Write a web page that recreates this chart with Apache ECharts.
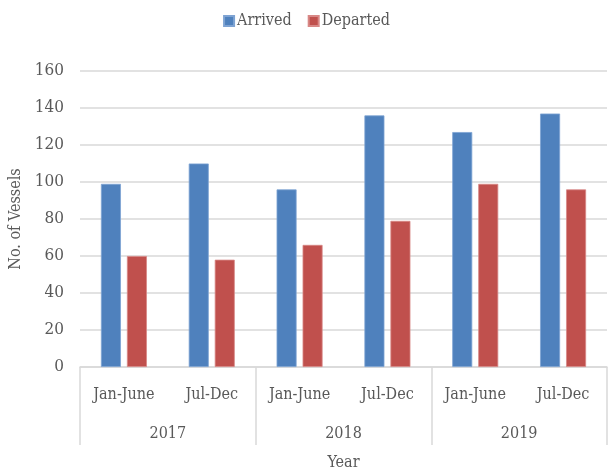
<!DOCTYPE html>
<html><head><meta charset="utf-8">
<script src="https://cdn.jsdelivr.net/npm/echarts@6/dist/echarts.min.js"></script>
<style>html,body{margin:0;padding:0;background:#fff}#c{width:613px;height:470px}</style>
</head><body><div id="c"></div>
<script>
const periods = ['Jan-June','Jul-Dec','Jan-June','Jul-Dec','Jan-June','Jul-Dec'];
const years = ['2017','2018','2019'];
const arrived = [99, 110, 96, 136, 127, 137];
const departed = [60, 58, 66, 79, 99, 96];
const yTicks = {min: 0, max: 160, interval: 20};

const FONT = '"DejaVu Serif Condensed", "DejaVu Serif", serif';
const TXT = '#595959';
const chart = echarts.init(document.getElementById('c'), null, {renderer:'canvas'});
chart.setOption({
  animation: false,
  textStyle: {fontFamily: FONT, color: TXT},
  legend: {
    top: 8, left: 'center', itemWidth: 10, itemHeight: 10, itemGap: 16,
    icon: 'rect',
    textStyle: {fontFamily: FONT, fontSize: 16, color: TXT, padding: [0,0,0,-2]},
    data: ['Arrived','Departed']
  },
  grid: {left: 80, right: 6, top: 71, bottom: 103, outerBoundsMode: 'none', containLabel: false},
  xAxis: [
    {type: 'category', data: periods, position: 'bottom',
     axisLine: {lineStyle: {color: '#d9d9d9', width: 1.5}},
     axisTick: {show: false},
     axisLabel: {fontFamily: FONT, fontSize: 16, color: TXT, margin: 20}},
    {type: 'category', data: years, position: 'bottom',
     axisLine: {show: false},
     axisTick: {show: true, length: 78, lineStyle: {color: '#d9d9d9', width: 1.5}},
     axisLabel: {fontFamily: FONT, fontSize: 16, color: TXT, margin: 59},
     name: 'Year', nameLocation: 'middle', nameGap: 88,
     nameTextStyle: {fontFamily: FONT, fontSize: 16, color: TXT}}
  ],
  yAxis: {
    type: 'value', min: yTicks.min, max: yTicks.max, interval: yTicks.interval,
    axisLine: {show: false}, axisTick: {show: false},
    axisLabel: {fontFamily: FONT, fontSize: 17, color: TXT, margin: 16},
    splitLine: {lineStyle: {color: '#d9d9d9', width: 1.5}},
    name: 'No. of Vessels', nameLocation: 'middle', nameGap: 54,
    nameTextStyle: {fontFamily: FONT, fontSize: 16, color: TXT}
  },
  series: [
    {name: 'Arrived', type: 'bar', xAxisIndex: 0, data: arrived, barWidth: 20, barGap: '30%',
     itemStyle: {color: '#4f81bd', borderColor: '#7ea3d3', borderWidth: 0.8}},
    {name: 'Departed', type: 'bar', xAxisIndex: 0, data: departed, barWidth: 20,
     itemStyle: {color: '#c0504d', borderColor: '#d88886', borderWidth: 0.8}}
  ]
});
</script></body></html>
